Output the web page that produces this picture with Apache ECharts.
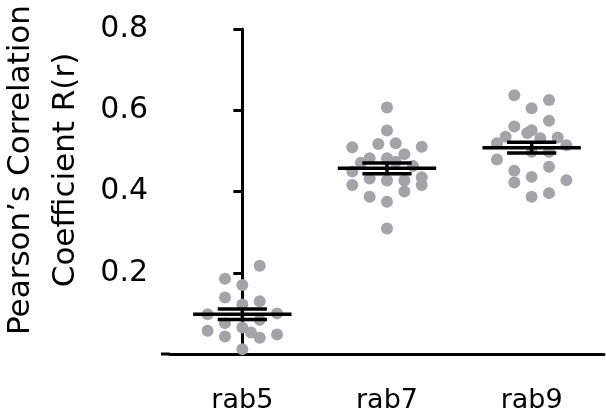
<!DOCTYPE html>
<html>
<head>
    <meta charset="utf-8">
    <title>Pearson correlation</title>
    <script src="https://cdn.jsdelivr.net/npm/echarts@6/dist/echarts.min.js"></script>
    <style>
        body { margin: 0; background: #fff; }
        #main { width: 606px; height: 416px; }
    </style>
</head>
<body>
<div id="main"></div>
<script type="text/javascript">
    var categories = ['rab5', 'rab7', 'rab9'];
    var yTicks = [0, 0.2, 0.4, 0.6, 0.8];

    // values, offsets = horizontal spread of the dots (category units)
    var rab5Values = [0.217, 0.185, 0.170, 0.139, 0.122, 0.130, 0.098, 0.100, 0.076, 0.084, 0.057, 0.043, 0.065, 0.053, 0.040, 0.048, 0.012];
    var rab5Offsets = [0.12, -0.12, 0, -0.12, 0, 0.12, -0.24, 0.24, -0.12, 0.12, -0.24, -0.12, 0, 0.06, 0.12, 0.24, 0];
    var rab7Values = [0.607, 0.550, 0.509, 0.517, 0.519, 0.510, 0.492, 0.482, 0.471, 0.482, 0.473, 0.463, 0.449, 0.432, 0.427, 0.427, 0.435, 0.416, 0.416, 0.400, 0.387, 0.375, 0.309];
    var rab7Offsets = [0, 0, -0.24, -0.06, 0.06, 0.24, 0.12, -0.12, -0.18, 0, 0.06, 0.18, -0.24, -0.12, 0, 0.12, 0.24, 0.24, -0.24, 0.12, -0.12, 0, 0];
    var rab9Values = [0.637, 0.625, 0.605, 0.574, 0.560, 0.551, 0.535, 0.544, 0.533, 0.519, 0.514, 0.531, 0.498, 0.498, 0.479, 0.461, 0.451, 0.422, 0.436, 0.428, 0.387, 0.396];
    var rab9Offsets = [-0.12, 0.12, 0, 0.12, -0.12, 0, -0.18, -0.03, 0.18, -0.24, 0.24, 0.06, 0, 0.12, -0.24, 0.12, -0.12, -0.12, 0, 0.24, 0, 0.12];

    var means = [0.098, 0.457, 0.508];
    var sems = [0.013, 0.013, 0.013];

    function buildPoints() {
        var groups = [[rab5Values, rab5Offsets], [rab7Values, rab7Offsets], [rab9Values, rab9Offsets]];
        var pts = [];
        for (var i = 0; i < groups.length; i++) {
            var vals = groups[i][0], offs = groups[i][1];
            for (var j = 0; j < vals.length; j++) {
                pts.push([i + offs[j], vals[j]]);
            }
        }
        return pts;
    }

    var barData = [];
    for (var k = 0; k < means.length; k++) {
        barData.push([k, means[k], sems[k]]);
    }

    function renderErrorBar(params, api) {
        var i = api.value(0), m = api.value(1), s = api.value(2);
        var style = { stroke: '#000', lineWidth: 3.5 };
        var a = api.coord([i - 0.34, m]), b = api.coord([i + 0.34, m]);
        var c1 = api.coord([i - 0.17, m + s]), c2 = api.coord([i + 0.17, m + s]);
        var d1 = api.coord([i - 0.17, m - s]), d2 = api.coord([i + 0.17, m - s]);
        var top = api.coord([i, m + s]), bot = api.coord([i, m - s]);
        return {
            type: 'group',
            children: [
                { type: 'line', shape: { x1: a[0], y1: a[1], x2: b[0], y2: b[1] }, style: style },
                { type: 'line', shape: { x1: c1[0], y1: c1[1], x2: c2[0], y2: c2[1] }, style: style },
                { type: 'line', shape: { x1: d1[0], y1: d1[1], x2: d2[0], y2: d2[1] }, style: style },
                { type: 'line', shape: { x1: top[0], y1: top[1], x2: bot[0], y2: bot[1] }, style: style }
            ]
        };
    }

    var myChart = echarts.init(document.getElementById('main'));
    myChart.setOption({
        animation: false,
        grid: { left: 170, right: 2, top: 29, bottom: 62 },
        graphic: [{
            type: 'text',
            x: 43,
            y: 170,
            rotation: Math.PI / 2,
            style: {
                text: 'Pearson\u2019s Correlation\nCoefficient R(r)',
                fontFamily: 'DejaVu Sans',
                fontSize: 31,
                lineHeight: 45,
                align: 'center',
                verticalAlign: 'middle',
                fill: '#000'
            }
        }],
        xAxis: [{
            type: 'category',
            data: categories,
            boundaryGap: true,
            axisLine: { lineStyle: { color: '#000', width: 3 } },
            axisTick: { alignWithLabel: true, length: 8, lineStyle: { color: '#000', width: 3 } },
            axisLabel: { color: '#000', fontFamily: 'DejaVu Sans', fontSize: 27, margin: 33 }
        }, {
            type: 'value',
            min: -0.5,
            max: 2.5,
            show: false
        }],
        yAxis: {
            type: 'value',
            min: yTicks[0],
            max: yTicks[yTicks.length - 1],
            interval: 0.2,
            splitLine: { show: false },
            axisLine: { show: true, lineStyle: { color: '#000', width: 3 } },
            axisTick: { show: true, length: 9, lineStyle: { color: '#000', width: 3 } },
            axisLabel: {
                color: '#000',
                fontFamily: 'DejaVu Sans',
                fontSize: 30,
                margin: 22,
                formatter: function (v) { return v === 0 ? '' : v.toFixed(1); }
            }
        },
        series: [{
            type: 'scatter',
            xAxisIndex: 1,
            data: buildPoints(),
            symbolSize: 12,
            itemStyle: { color: '#a3a3a8', opacity: 1 },
            z: 2
        }, {
            type: 'custom',
            xAxisIndex: 1,
            data: barData,
            renderItem: renderErrorBar,
            z: 3
        }]
    });

    // tick at y=0 so the x axis runs a little past the y axis, as in the original
    var y0 = myChart.convertToPixel({ yAxisIndex: 0 }, 0);
    var x0 = myChart.convertToPixel({ xAxisIndex: 1 }, -0.5);
    myChart.setOption({
        graphic: [{}, {
            type: 'line',
            shape: { x1: x0 - 9, y1: y0, x2: x0, y2: y0 },
            style: { stroke: '#000', lineWidth: 3 }
        }]
    });
</script>
</body>
</html>
